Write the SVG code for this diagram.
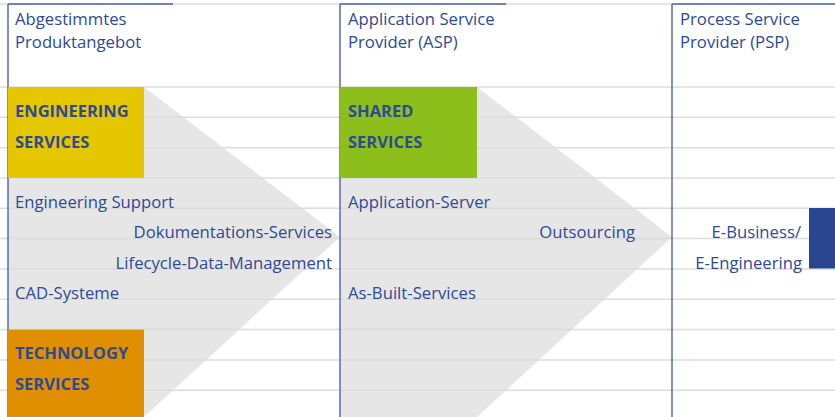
<svg xmlns="http://www.w3.org/2000/svg" width="835" height="417" viewBox="0 0 835 417">
<style>
.grid{stroke:#dcdcdc;stroke-width:1.5;fill:none}
.col{stroke:#4a62a8;stroke-width:1.4;fill:none}
.chev{fill:#e6e6e6}
text{font-family:"Open Sans","Noto Sans","Liberation Sans",sans-serif;font-size:16.7px;fill:#2e4a94}
.hd{font-weight:700;font-size:16.5px}
.r{text-anchor:end}
</style>
<rect width="835" height="417" fill="#ffffff"/>
<g id="chevrons">
<polygon class="chev" points="8,87 144,87 340,237 144,417 8,417"/>
<polygon class="chev" points="340,87 477,87 672,237 477,417 340,417"/>
</g>
<g id="grid">
<line class="grid" x1="0" y1="4" x2="835" y2="4"/>
<line class="grid" x1="0" y1="87" x2="835" y2="87"/>
<line class="grid" x1="0" y1="117.3" x2="835" y2="117.3"/>
<line class="grid" x1="0" y1="147.7" x2="835" y2="147.7"/>
<line class="grid" x1="0" y1="178" x2="835" y2="178"/>
<line class="grid" x1="0" y1="208.3" x2="835" y2="208.3"/>
<line class="grid" x1="0" y1="238.6" x2="835" y2="238.6"/>
<line class="grid" x1="0" y1="269" x2="835" y2="269"/>
<line class="grid" x1="0" y1="299.3" x2="835" y2="299.3"/>
<line class="grid" x1="0" y1="329.6" x2="835" y2="329.6"/>
<line class="grid" x1="0" y1="360" x2="835" y2="360"/>
<line class="grid" x1="0" y1="390.3" x2="835" y2="390.3"/>
</g>
<g id="columns">
<line class="col" x1="8" y1="4" x2="173" y2="4"/>
<line class="col" x1="340" y1="4" x2="506" y2="4"/>
<line class="col" x1="672" y1="4" x2="835" y2="4"/>
<line class="col" x1="8" y1="4" x2="8" y2="417"/>
<line class="col" x1="340" y1="4" x2="340" y2="417"/>
<line class="col" x1="672" y1="4" x2="672" y2="417"/>
</g>
<g id="col-produkt">
<text x="15" y="25">Abgestimmtes</text>
<text x="15" y="48">Produktangebot</text>
</g>
<g id="col-asp">
<text x="348" y="25">Application Service</text>
<text x="348" y="48">Provider (ASP)</text>
</g>
<g id="col-psp">
<text x="680" y="25">Process Service</text>
<text x="680" y="48">Provider (PSP)</text>
</g>
<g id="engineering-services">
<rect x="8" y="87" width="136" height="91" fill="#e5c700"/>
<text class="hd" x="15" y="117">ENGINEERING</text>
<text class="hd" x="15" y="147.5">SERVICES</text>
</g>
<g id="technology-services">
<rect x="8" y="329.6" width="136" height="88" fill="#e08f00"/>
<text class="hd" x="15" y="359">TECHNOLOGY</text>
<text class="hd" x="15" y="389.5">SERVICES</text>
</g>
<g id="shared-services">
<rect x="340" y="87" width="137" height="91" fill="#8cbf1c"/>
<text class="hd" x="348" y="117">SHARED</text>
<text class="hd" x="348" y="147.5">SERVICES</text>
</g>
<g id="items-produkt">
<text x="15" y="208">Engineering Support</text>
<text class="r" x="332" y="238">Dokumentations-Services</text>
<text class="r" x="332" y="268.5">Lifecycle-Data-Management</text>
<text x="15" y="299">CAD-Systeme</text>
</g>
<g id="items-asp">
<text x="348" y="208">Application-Server</text>
<text class="r" x="635" y="238">Outsourcing</text>
<text x="348" y="299">As-Built-Services</text>
</g>
<g id="items-psp">
<text class="r" x="801" y="238">E-Business/</text>
<text class="r" x="802" y="268.5">E-Engineering</text>
<rect x="809" y="208" width="26" height="60.5" fill="#2b4690"/>
</g>
</svg>
